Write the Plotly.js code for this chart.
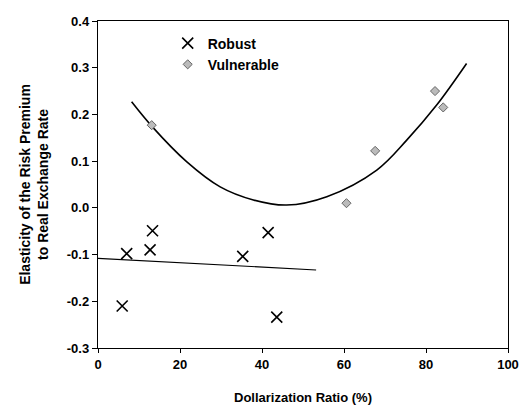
<!DOCTYPE html>
<html>
<head>
<meta charset="utf-8">
<script src="https://cdn.plot.ly/plotly-3.0.1.min.js"></script>
<style>html,body{margin:0;padding:0;background:#fff;}#chart{width:526px;height:406px;}</style>
</head>
<body>
<div id="chart"></div>
<script>
// Robust group
const robustX = [5.9, 7.0, 12.7, 13.3, 35.3, 41.5, 43.6];
const robustY = [-0.21, -0.098, -0.09, -0.049, -0.104, -0.053, -0.234];
// Vulnerable group
const vulnX = [13.1, 60.6, 67.6, 82.2, 84.2];
const vulnY = [0.177, 0.01, 0.122, 0.25, 0.215];
// Robust linear trend (read endpoints)
const robustTrendX = [0, 53.2];
const robustTrendY = [-0.108, -0.133];
// Vulnerable quadratic trend
const vulnTrendX = [8.2, 13.1, 21.6, 29.8, 37.9, 46.0, 55.8, 68.0, 75.3, 82.6, 89.9];
const vulnTrendY = [0.227, 0.175, 0.099, 0.045, 0.017, 0.006, 0.024, 0.081, 0.145, 0.22, 0.309];

const font = {family: 'Liberation Sans, Arial, sans-serif', size: 12, color: '#000'};

const data = [
  {x: robustTrendX, y: robustTrendY, mode: 'lines', line: {color: '#000', width: 1.2}, showlegend: false, hoverinfo: 'skip'},
  {x: vulnTrendX, y: vulnTrendY, mode: 'lines', line: {color: '#000', width: 1.6, shape: 'spline'}, showlegend: false, hoverinfo: 'skip'},
  {x: robustX, y: robustY, mode: 'markers', name: '<b>Robust</b>',
   marker: {symbol: 'x-thin-open', size: 11, color: '#000', line: {color: '#000', width: 1.6}}},
  {x: vulnX, y: vulnY, mode: 'markers', name: '<b>Vulnerable</b>',
   marker: {symbol: 'diamond', size: 7, color: '#bbb', line: {color: '#666', width: 1}}}
];

const layout = {
  width: 526, height: 406,
  margin: {l: 98, r: 18, t: 21, b: 58},
  paper_bgcolor: '#fff', plot_bgcolor: '#fff',
  font: font,
  showlegend: true,
  legend: {x: 0.17, y: 0.98, xanchor: 'left', yanchor: 'top', bgcolor: 'rgba(0,0,0,0)',
           font: {family: font.family, size: 14, color: '#000'}, itemwidth: 30, tracegroupgap: 6},
  xaxis: {
    range: [0, 100], tickvals: [0, 20, 40, 60, 80, 100], ticktext: ['<b>0</b>','<b>20</b>','<b>40</b>','<b>60</b>','<b>80</b>','<b>100</b>'],
    ticks: 'outside', ticklen: 4, tickcolor: '#000', showgrid: false, zeroline: false,
    showline: true, linecolor: '#000', linewidth: 1.2, mirror: true,
    tickfont: {family: font.family, size: 13, color: '#000'},
    title: {text: '<b>Dollarization Ratio (%)</b>', font: {family: font.family, size: 13, color: '#000'}, standoff: 22}
  },
  yaxis: {
    range: [-0.3, 0.4], tickvals: [-0.3, -0.2, -0.1, 0, 0.1, 0.2, 0.3, 0.4],
    ticktext: ['<b>-0.3</b>','<b>-0.2</b>','<b>-0.1</b>','<b>0.0</b>','<b>0.1</b>','<b>0.2</b>','<b>0.3</b>','<b>0.4</b>'],
    ticks: 'outside', ticklen: 5, tickcolor: '#000', showgrid: false, zeroline: false,
    showline: true, linecolor: '#000', linewidth: 1.2, mirror: true,
    tickfont: {family: font.family, size: 13, color: '#000'},
    title: {text: '<b>Elasticity of the Risk Premium<br>to Real Exchange Rate</b>', font: {family: font.family, size: 14, color: '#000'}, standoff: 14}
  }
};

Plotly.newPlot('chart', data, layout, {displayModeBar: false, staticPlot: true});
</script>
</body>
</html>
